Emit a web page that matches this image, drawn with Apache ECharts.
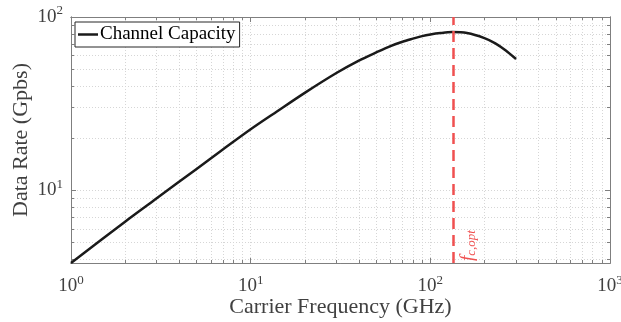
<!DOCTYPE html>
<html><head><meta charset="utf-8">
<script src="https://cdn.jsdelivr.net/npm/echarts@6/dist/echarts.min.js"></script>
<style>html,body{margin:0;padding:0;background:#fff}#c{width:621px;height:322px}</style>
</head><body><div id="c"></div>
<script>
const freqGHz = [1, 2, 3, 5, 7, 10, 14, 20, 30, 40, 50, 60, 70, 80, 90, 100, 114, 132, 160, 200, 230, 263, 300];
const capacityGbps = [3.81, 6.6, 9.0, 13.3, 17.2, 22.5, 28.5, 36.5, 47.5, 56.0, 62.5, 68.0, 72.0, 75.0, 77.6, 79.3, 80.8, 81.8, 80.8, 75.6, 70.5, 64.1, 57.2];
const fOpt = 134;
const xMajor = [1, 10, 100, 1000];
const xMinor = [2,3,4,5,6,7,8,9,20,30,40,50,60,70,80,90,200,300,400,500,600,700,800,900];
const yMajor = [10, 100];
const yMinor = [4,5,6,7,8,9,20,30,40,50,60,70,80,90];
const yMin = 3.81, yMax = 100;

const FONT = 'Liberation Serif';
const TXT = '#404040';
const AX = '#7f7f7f';
const rich = {
  b: {fontFamily: FONT, fontSize: 19, color: TXT},
  s: {fontFamily: FONT, fontSize: 13, color: TXT, padding: [0, 0, 12, 0]}
};
const fmt = v => '{b|10}{s|' + Math.round(Math.log10(v)) + '}';
const gridLine = {show: true, lineStyle: {color: '#d6d6d6', type: [1, 2], width: 1}};

function xAx(pos, isMinor) {
  return {
    type: 'log', logBase: 10, min: 1, max: 1000, position: pos,
    axisLine: {show: true, onZero: false, lineStyle: {color: AX, width: 1}},
    axisTick: {show: true, inside: true, length: isMinor ? 3 : 5, lineStyle: {color: AX},
      customValues: isMinor ? xMinor : xMajor},
    axisLabel: {show: pos === 'bottom' && !isMinor, customValues: xMajor, formatter: fmt, rich: rich, margin: 11},
    splitLine: pos === 'bottom' ? gridLine : {show: false},
    name: pos === 'bottom' && !isMinor ? 'Carrier Frequency (GHz)' : '',
    nameLocation: 'middle', nameGap: 33, nameMoveOverlap: false,
    nameTextStyle: {fontFamily: FONT, fontSize: 22, color: TXT}
  };
}
function yAx(pos, isMinor) {
  return {
    type: 'log', logBase: 10, min: yMin, max: yMax, position: pos,
    axisLine: {show: true, onZero: false, lineStyle: {color: AX, width: 1}},
    axisTick: {show: true, inside: true, length: isMinor ? 3 : 5, lineStyle: {color: AX},
      customValues: isMinor ? yMinor : yMajor},
    axisLabel: {show: pos === 'left' && !isMinor, customValues: yMajor, formatter: fmt, rich: rich, margin: 8},
    splitLine: pos === 'left' ? gridLine : {show: false},
    name: pos === 'left' && !isMinor ? 'Data Rate (Gpbs)' : '',
    nameLocation: 'middle', nameGap: 39, nameMoveOverlap: false,
    nameTextStyle: {fontFamily: FONT, fontSize: 22, color: TXT}
  };
}

const chart = echarts.init(document.getElementById('c'), null, {renderer: 'canvas'});
chart.setOption({
  animation: false,
  grid: {left: 71, right: 11, top: 17, bottom: 59, containLabel: false, outerBoundsMode: 'none'},
  legend: {
    left: 75, top: 22, orient: 'vertical', padding: [3, 4, 3, 3],
    borderColor: '#262626', borderWidth: 1, backgroundColor: '#fff',
    itemWidth: 20, itemHeight: 2.5, icon: 'rect',
    textStyle: {fontFamily: FONT, fontSize: 19, color: '#000', padding: [0, 0, 0, -3]},
    data: [{name: 'Channel Capacity', icon: 'rect'}]
  },
  xAxis: [xAx('bottom', false), xAx('bottom', true), xAx('top', false), xAx('top', true)],
  yAxis: [yAx('left', false), yAx('left', true), yAx('right', false), yAx('right', true)],
  series: [{
    name: 'Channel Capacity', type: 'line', smooth: 0.3, symbol: 'none',
    xAxisIndex: 0, yAxisIndex: 0,
    lineStyle: {color: '#1a1a1a', width: 2.5}, itemStyle: {color: '#1a1a1a'},
    data: freqGHz.map((f, i) => [f, capacityGbps[i]]),
    markLine: {
      silent: true, symbol: 'none',
      lineStyle: {color: '#f05050', type: [11, 6], width: 2.5},
      label: {
        show: true, position: 'insideStartBottom', distance: [2, 5],
        formatter: '{f|f}{c|c,opt}',
        rich: {
          f: {fontFamily: FONT, fontStyle: 'italic', fontSize: 19, color: '#f05050'},
          c: {fontFamily: FONT, fontStyle: 'italic', fontSize: 13, color: '#f05050', padding: [7, 0, 0, 0]}
        }
      },
      data: [{xAxis: fOpt}]
    }
  }]
});
</script></body></html>
